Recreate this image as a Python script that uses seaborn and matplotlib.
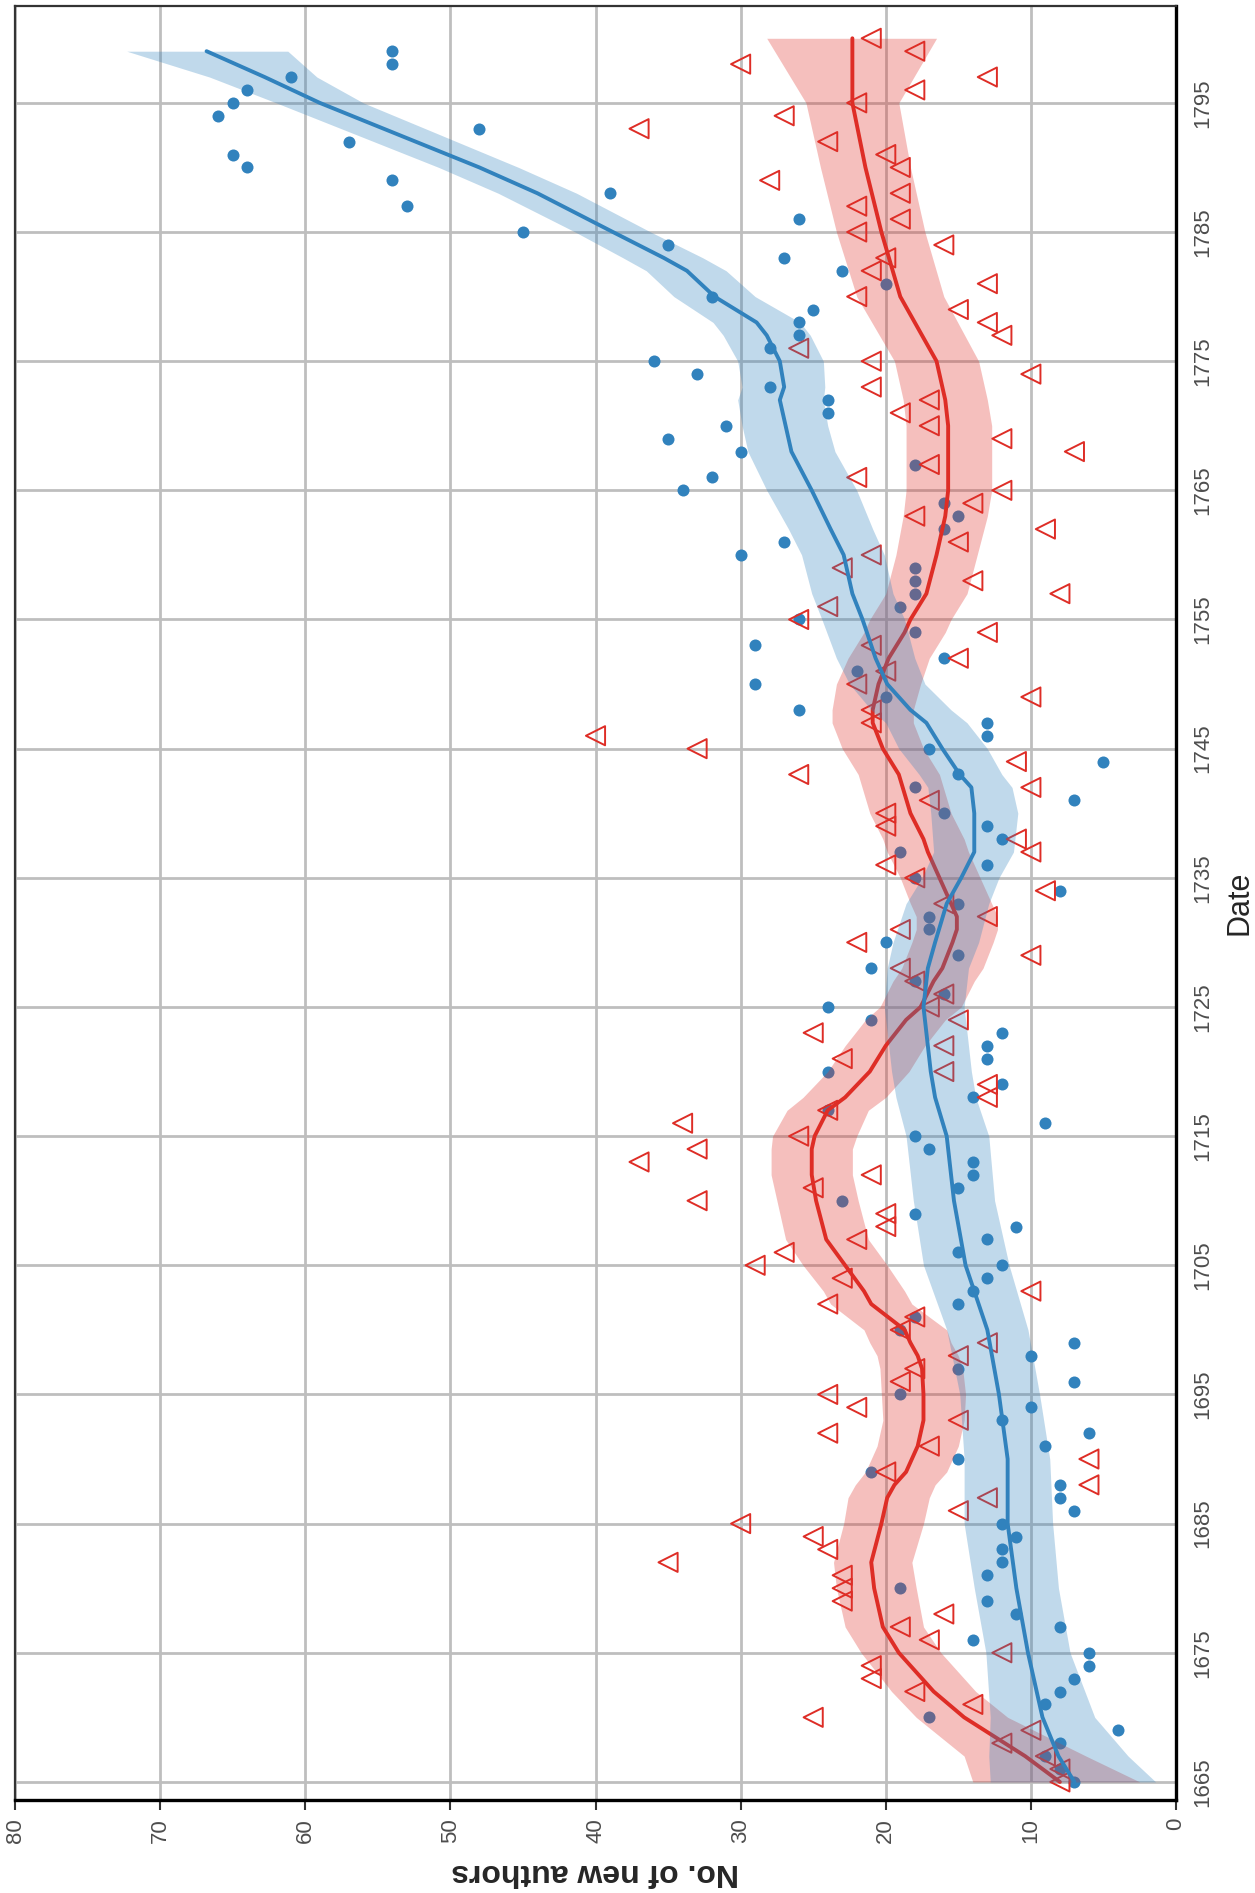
import numpy as np
import matplotlib
matplotlib.use("Agg")
import matplotlib.pyplot as plt
import seaborn as sns

BLUE = "#3182bd"
RED = "#de2d26"

# yearly counts of new authors
blue_years = list(range(1665, 1800))
blue_counts = [
    7, 8, 9, 8, 4, 17, 9, 8, 7, 6,            # 1665-1674
    6, 14, 8, 11, 13, 19, 13, 12, 12, 11,     # 1675-1684
    12, 7, 8, 8, 21, 15, 9, 6, 12, 10,        # 1685-1694
    19, 7, 15, 10, 7, 19, 18, 15, 14, 13,     # 1695-1704
    12, 15, 13, 11, 18, 23, 15, 14, 14, 17,   # 1705-1714
    18, 9, 24, 14, 12, 24, 13, 13, 12, 21,    # 1715-1724
    24, 16, 18, 21, 15, 20, 17, 17, 15, 8,    # 1725-1734
    18, 13, 19, 12, 13, 16, 7, 18, 15, 5,     # 1735-1744
    17, 13, 13, 26, 20, 29, 22, 16, 29, 18,   # 1745-1754
    26, 19, 18, 18, 18, 30, 27, 16, 15, 16,   # 1755-1764
    34, 32, 18, 30, 35, 31, 24, 24, 28, 33,   # 1765-1774
    36, 28, 26, 26, 25, 32, 20, 23, 27, 35,   # 1775-1784
    45, 26, 53, 39, 54, 64, 65, 57, 48, 66,   # 1785-1794
    65, 64, 61, 54, 54,                       # 1795-1799
]

red_years = list(range(1665, 1801))
red_counts = [
    8, 8, 9, 12, 10, 25, 14, 18, 21, 21,      # 1665-1674
    12, 17, 19, 16, 23, 23, 23, 35, 24, 25,   # 1675-1684
    30, 15, 13, 6, 20, 6, 17, 24, 15, 22,     # 1685-1694
    24, 19, 18, 15, 13, 19, 18, 24, 10, 23,   # 1695-1704
    29, 27, 22, 20, 20, 33, 25, 21, 37, 33,   # 1705-1714
    26, 34, 24, 13, 13, 16, 23, 16, 25, 15,   # 1715-1724
    17, 16, 18, 19, 10, 22, 19, 13, 16, 9,    # 1725-1734
    18, 20, 10, 11, 20, 20, 17, 10, 26, 11,   # 1735-1744
    33, 40, 21, 21, 10, 22, 20, 15, 21, 13,   # 1745-1754
    26, 24, 8, 14, 23, 21, 15, 9, 18, 14,     # 1755-1764
    12, 22, 17, 7, 12, 17, 19, 17, 21, 10,    # 1765-1774
    21, 26, 12, 13, 15, 22, 13, 21, 20, 16,   # 1775-1784
    22, 19, 22, 19, 28, 19, 20, 24, 37, 27,   # 1785-1794
    22, 18, 13, 30, 18, 21,                   # 1795-1800
]

# smoothed trend and confidence band
blue_fit_years = [1665, 1667, 1670, 1675, 1680, 1685, 1690, 1695, 1700, 1705,
                  1710, 1715, 1718, 1720, 1725, 1728, 1730, 1733, 1735, 1737,
                  1740, 1742, 1743, 1745, 1747, 1748, 1750, 1752, 1755, 1757,
                  1760, 1762, 1765, 1768, 1770, 1772, 1773, 1775, 1777, 1778,
                  1780, 1782, 1783, 1785, 1788, 1790, 1795, 1797, 1799]
blue_fit = [7.0, 8.1, 9.2, 10.2, 11.0, 11.6, 11.6, 12.2, 13.0, 14.5,
            15.3, 15.8, 16.6, 16.9, 17.4, 17.1, 16.6, 15.8, 14.8, 13.9,
            13.9, 14.1, 14.9, 16.1, 17.2, 18.3, 19.9, 20.7, 21.6, 22.3,
            22.9, 23.8, 25.1, 26.5, 26.9, 27.3, 27.0, 27.3, 28.2, 28.9,
            31.8, 33.7, 35.3, 38.8, 44.0, 48.0, 59.0, 62.8, 66.8]
blue_lo = [1.4, 3.3, 5.6, 7.3, 8.1, 8.5, 8.7, 9.4, 10.2, 11.5,
           12.5, 12.9, 13.8, 14.1, 14.6, 14.3, 13.6, 12.9, 12.2, 11.2,
           10.9, 11.3, 12.0, 13.0, 14.4, 15.5, 17.3, 18.0, 18.7, 19.5,
           20.1, 20.9, 22.0, 23.5, 24.0, 24.3, 24.2, 24.3, 25.2, 25.9,
           29.0, 31.0, 32.6, 36.2, 41.3, 45.3, 56.0, 59.2, 61.2]
blue_hi = [12.8, 12.9, 12.8, 13.1, 13.9, 14.6, 14.6, 14.9, 15.8, 17.4,
           18.1, 18.6, 19.3, 19.6, 20.1, 19.9, 19.5, 18.6, 17.5, 16.7,
           16.9, 17.1, 17.7, 19.1, 20.0, 21.0, 22.5, 23.4, 24.4, 25.1,
           25.8, 26.7, 28.2, 29.5, 29.9, 30.2, 29.9, 30.2, 31.2, 31.9,
           34.6, 36.5, 38.1, 41.4, 46.7, 50.8, 62.0, 66.6, 72.3]

red_fit_years = [1665, 1667, 1670, 1672, 1675, 1677, 1680, 1682, 1685, 1687,
                 1688, 1689, 1690, 1691, 1693, 1695, 1697, 1698, 1699, 1700,
                 1702, 1703, 1705, 1707, 1710, 1712, 1714, 1715, 1717, 1718,
                 1720, 1722, 1724, 1725, 1727, 1728, 1730, 1731, 1732, 1733,
                 1735, 1737, 1738, 1740, 1743, 1745, 1747, 1748, 1750, 1752,
                 1754, 1755, 1757, 1760, 1763, 1765, 1770, 1772, 1775, 1780,
                 1785, 1790, 1795, 1800]
red_fit = [8.0, 10.4, 14.6, 16.7, 19.1, 20.2, 20.8, 21.0, 20.3, 19.9,
           19.4, 18.6, 18.2, 17.8, 17.4, 17.4, 17.5, 17.8, 18.3, 18.7,
           21.0, 21.5, 22.8, 24.1, 24.8, 25.1, 25.1, 24.9, 24.0, 22.8,
           21.1, 20.0, 18.6, 17.6, 16.7, 16.1, 15.4, 15.1, 15.1, 15.5,
           16.3, 17.1, 17.4, 18.3, 19.1, 20.2, 20.9, 20.9, 20.5, 19.8,
           18.7, 18.3, 17.2, 16.5, 15.9, 15.7, 15.7, 15.9, 16.5, 19.0,
           20.3, 21.4, 22.3, 22.3]
red_lo = [2.5, 6.2, 11.6, 13.8, 16.2, 17.4, 17.9, 18.2, 17.4, 17.0,
          16.6, 15.8, 15.4, 15.0, 14.6, 14.5, 14.7, 15.0, 15.5, 15.8,
          18.2, 18.7, 19.9, 21.2, 21.9, 22.3, 22.3, 22.0, 21.2, 20.0,
          18.4, 17.3, 15.9, 14.8, 13.9, 13.3, 12.6, 12.3, 12.3, 12.7,
          13.5, 14.3, 14.6, 15.5, 16.3, 17.4, 18.1, 18.1, 17.6, 17.0,
          15.9, 15.5, 14.4, 13.7, 13.0, 12.7, 12.7, 13.0, 13.6, 16.0,
          17.3, 18.3, 19.1, 16.5]
red_hi = [14.0, 14.6, 17.9, 19.6, 21.7, 22.8, 23.4, 23.6, 22.9, 22.6,
          22.1, 21.4, 21.0, 20.6, 20.2, 20.3, 20.4, 20.6, 21.1, 21.5,
          23.8, 24.3, 25.7, 26.9, 27.5, 27.9, 27.9, 27.8, 26.8, 25.7,
          24.0, 22.8, 21.4, 20.4, 19.5, 18.9, 18.2, 17.9, 17.9, 18.3,
          19.0, 19.9, 20.2, 21.1, 21.9, 23.0, 23.7, 23.7, 23.4, 22.6,
          21.5, 21.1, 20.0, 19.3, 18.8, 18.6, 18.6, 18.8, 19.4, 22.0,
          23.4, 24.5, 25.5, 28.2]

author_ticks = list(range(0, 81, 10))
date_ticks = list(range(1665, 1800, 10))


def main():
    sns.set_style("white")
    plt.rcParams["font.family"] = ["Liberation Sans", "DejaVu Sans"]

    fig = plt.figure(figsize=(12.55, 18.93), dpi=100)
    ax = fig.add_axes([15 / 1255, 1 - 1800 / 1893, (1176 - 15) / 1255, (1800 - 6) / 1893])

    # points first, bands and trend lines drawn over them
    sns.scatterplot(x=blue_counts, y=blue_years, ax=ax, color=BLUE, s=75,
                    linewidth=0, zorder=2)
    sns.scatterplot(x=red_counts, y=red_years, ax=ax, marker="<", s=190,
                    color=RED, facecolor="none", edgecolor=RED, linewidth=1.4, zorder=2)

    ax.fill_betweenx(red_fit_years, red_lo, red_hi, color=RED, alpha=0.3,
                     linewidth=0, zorder=3)
    sns.lineplot(x=red_fit, y=red_fit_years, orient="y", sort=False, estimator=None,
                 color=RED, linewidth=2.8, ax=ax, zorder=4)
    ax.fill_betweenx(blue_fit_years, blue_lo, blue_hi, color=BLUE, alpha=0.3,
                     linewidth=0, zorder=5)
    sns.lineplot(x=blue_fit, y=blue_fit_years, orient="y", sort=False, estimator=None,
                 color=BLUE, linewidth=2.8, ax=ax, zorder=6)

    ax.set_xlim(80, 0)
    ax.set_ylim(1663.6, 1802.5)

    ax.set_axisbelow(True)
    ax.grid(True, color="#bebebe", linewidth=2.0)

    ax.yaxis.tick_right()
    ax.yaxis.set_label_position("right")
    ax.set_yticks(date_ticks, [str(t) for t in date_ticks], rotation=90,
                  va="center", ha="left")
    ax.set_xticks(author_ticks, [str(t) for t in author_ticks], rotation=90,
                  ha="center", va="top")
    ax.tick_params(axis="y", length=0, pad=12, labelsize=16, labelcolor="#4d4d4d")
    ax.tick_params(axis="x", length=7, width=1.5, color="#333333", pad=6,
                   labelsize=16, labelcolor="#4d4d4d", bottom=True)

    ax.set_xlabel("No. of new authors", rotation=180, fontsize=23,
                  fontweight="bold", labelpad=10)
    ax.set_ylabel("Date", rotation=90, fontsize=22, labelpad=8)

    for side in ["bottom", "right"]:
        ax.spines[side].set_color("black")
        ax.spines[side].set_linewidth(2.4)
    for side in ["top", "left"]:
        ax.spines[side].set_color("#333333")
        ax.spines[side].set_linewidth(1.6)

    fig.savefig("out.png", dpi=100)


if __name__ == "__main__":
    main()
